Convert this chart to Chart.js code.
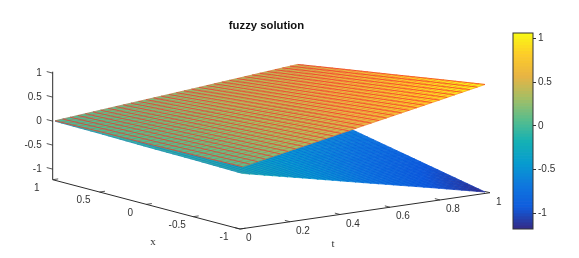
<!DOCTYPE html>
<html>
<head>
<meta charset="utf-8">
<script src="https://cdn.jsdelivr.net/npm/chart.js@4"></script>
<style>
  html, body { margin: 0; background: #fff; }
  #wrap { position: relative; width: 579px; height: 258px; overflow: hidden; }
  canvas { position: absolute; top: 0; }
</style>
</head>
<body>
<div id="wrap">
  <canvas id="surface" width="533" height="258" style="left:0"></canvas>
  <canvas id="bar" width="89" height="258" style="left:490px"></canvas>
</div>
<script>
// values
const xValues = [-1, -0.5, 0, 0.5, 1];
const tValues = [0.01, 0.25, 0.5, 0.75, 0.98];
const upperZ = [
  [0.07, 0.05, 0.03, 0.02, 0],
  [0.31, 0.26, 0.21, 0.16, 0.11],
  [0.565, 0.48, 0.39, 0.31, 0.22],
  [0.815, 0.695, 0.575, 0.455, 0.335],
  [1.05, 0.9, 0.745, 0.595, 0.44],
];
const lowerZ = [
  [-0.07, -0.05, -0.04, -0.02, -0.01],
  [-0.345, -0.285, -0.22, -0.16, -0.1],
  [-0.635, -0.525, -0.42, -0.31, -0.2],
  [-0.92, -0.765, -0.61, -0.455, -0.3],
  [-1.19, -0.99, -0.79, -0.59, -0.39],
];
const xTicks = [1, 0.5, 0, -0.5, -1];
const tTicks = [0, 0.2, 0.4, 0.6, 0.8, 1];
const zTicks = [1, 0.5, 0, -0.5, -1];
const barTicks = [-1, -0.5, 0, 0.5, 1];

const zMin = -1.22, zTop = 1.03;
const colorMin = -1.18, colorMax = 1.06;
const meshCells = 32;

// parula
const parula = [
  [53, 42, 135], [15, 92, 221], [15, 120, 222], [7, 156, 207], [21, 177, 180],
  [89, 189, 140], [165, 190, 100], [232, 180, 68], [253, 204, 40], [249, 251, 21],
];

// view: where x=-1,t=0,z=zMin lands, and the screen step of each data axis
const view = { ox: 240, oy: 229, xx: -93.65, xy: -24.65, tx: 250, ty: -36.3, zy: -48 };
const plotTop = 34;

function project(x, t, z) {
  return {
    x: view.ox + (x + 1) * view.xx + t * view.tx,
    y: view.oy + (x + 1) * view.xy + t * view.ty + (z - zMin) * view.zy,
  };
}

function colorAt(z) {
  const f = Math.min(1, Math.max(0, (z - colorMin) / (colorMax - colorMin))) * (parula.length - 1);
  const i = Math.min(parula.length - 2, Math.floor(f));
  const c = parula[i].map((v, k) => Math.round(v + (parula[i + 1][k] - v) * (f - i)));
  return `rgb(${c[0]},${c[1]},${c[2]})`;
}

// look up a z in the read table between its rows and columns
function zAt(table, x, t) {
  let j = 0, i = 0;
  while (j < xValues.length - 2 && x > xValues[j + 1]) j++;
  while (i < tValues.length - 2 && t > tValues[i + 1]) i++;
  const u = (x - xValues[j]) / (xValues[j + 1] - xValues[j]);
  const v = (t - tValues[i]) / (tValues[i + 1] - tValues[i]);
  const a = table[i][j] + (table[i][j + 1] - table[i][j]) * u;
  const b = table[i + 1][j] + (table[i + 1][j + 1] - table[i + 1][j]) * u;
  return a + (b - a) * v;
}

function lineSet(points, color, width) {
  return {
    type: "scatter", showLine: true, data: points, borderColor: color, borderWidth: width,
    pointRadius: 0, fill: false, tension: 0, clip: false,
  };
}

function surfaceSets(table, meshColor, crossColor) {
  const sets = [];
  const xAt = (i) => xValues[0] + (xValues[xValues.length - 1] - xValues[0]) * i / meshCells;
  const tAt = (i) => tValues[0] + (tValues[tValues.length - 1] - tValues[0]) * i / meshCells;
  for (let i = 0; i < meshCells; i++) {
    for (let j = 0; j < meshCells; j++) {
      const corners = [[j, i], [j + 1, i], [j + 1, i + 1], [j, i + 1], [j, i]];
      const zs = corners.map(([a, b]) => zAt(table, xAt(a), tAt(b)));
      const color = colorAt((zs[0] + zs[1] + zs[2] + zs[3]) / 4);
      sets.push({
        type: "scatter", showLine: true, tension: 0, pointRadius: 0, clip: false,
        data: corners.map(([a, b], k) => project(xAt(a), tAt(b), zs[k])),
        fill: "shape", backgroundColor: color, borderColor: color, borderWidth: 0.7,
      });
    }
  }
  for (let j = 0; j <= meshCells; j++) {
    const pts = [];
    for (let i = 0; i <= meshCells; i++) pts.push(project(xAt(j), tAt(i), zAt(table, xAt(j), tAt(i))));
    sets.push(lineSet(pts, crossColor, 0.7));
  }
  for (let i = 0; i <= meshCells; i++) {
    const pts = [];
    for (let j = 0; j <= meshCells; j++) pts.push(project(xAt(j), tAt(i), zAt(table, xAt(j), tAt(i))));
    sets.push(lineSet(pts, meshColor, 1));
  }
  return sets;
}

function axisSets() {
  const ink = "#2b2b2b";
  const sets = [
    lineSet([project(1, 0, zMin), project(-1, 0, zMin)], ink, 1),
    lineSet([project(-1, 0, zMin), project(-1, 1, zMin)], ink, 1),
    lineSet([project(1, 0, zMin), project(1, 0, zTop)], ink, 1),
  ];
  xTicks.forEach((v) => sets.push(lineSet([project(v, 0, zMin), project(v, 0.022, zMin)], ink, 0.8)));
  tTicks.forEach((v) => sets.push(lineSet([project(-1, v, zMin), project(-0.945, v, zMin)], ink, 0.8)));
  zTicks.forEach((v) => sets.push(lineSet([project(1, 0, v), project(1.064, 0, v)], ink, 0.8)));
  return sets;
}

const axisText = {
  id: "axisText",
  afterDatasetsDraw(chart) {
    const { ctx, scales } = chart;
    const put = (str, p, dx, dy, align) => {
      ctx.textAlign = align;
      ctx.fillText(str, scales.x.getPixelForValue(p.x) + dx, scales.y.getPixelForValue(p.y) + dy);
    };
    ctx.save();
    ctx.fillStyle = "#333";
    ctx.textBaseline = "middle";
    ctx.font = "10px 'Liberation Sans'";
    zTicks.forEach((v) => put(String(v), project(1, 0, v), -11, 0, "right"));
    xTicks.forEach((v) => put(String(v), project(v, 0, zMin), -16, 8.5, "center"));
    tTicks.forEach((v) => put(String(v), project(-1, v, zMin), 6, 9.5, "left"));
    ctx.font = "11px 'Liberation Serif'";
    ctx.textAlign = "center";
    ctx.fillText("x", 153, 242);
    ctx.fillText("t", 333, 244);
    ctx.restore();
  },
};

// first dataset is painted last in Chart.js, so the list goes in reverse
const datasets = [
  ...axisSets(),
  ...surfaceSets(lowerZ, "rgba(0,70,215,0.3)", "rgba(0,70,215,0.15)"),
  ...surfaceSets(upperZ, "rgba(245,45,40,0.72)", "rgba(245,60,40,0.5)"),
].reverse();

new Chart(document.getElementById("surface"), {
  type: "scatter",
  data: { datasets },
  plugins: [axisText],
  options: {
    responsive: false,
    animation: false,
    events: [],
    layout: { padding: 0 },
    plugins: {
      legend: { display: false },
      tooltip: { enabled: false },
      title: {
        display: true, text: "fuzzy solution", color: "#111",
        font: { family: "'Liberation Sans'", size: 11.3, weight: "bold", lineHeight: 1.2 },
        padding: { top: 19, bottom: 1.44 },
      },
    },
    scales: {
      x: { type: "linear", display: false, min: 0, max: 533 },
      y: { type: "linear", display: false, min: plotTop, max: 258, reverse: true },
    },
  },
});

// colorbar
const barSets = [];
const barSteps = 64;
for (let i = 0; i < barSteps; i++) {
  const lo = colorMin + (colorMax - colorMin) * i / barSteps;
  const hi = colorMin + (colorMax - colorMin) * (i + 1) / barSteps;
  barSets.push({
    data: [[lo, hi]], backgroundColor: colorAt((lo + hi) / 2), borderWidth: 0,
    barPercentage: 1, categoryPercentage: 1, grouped: false, borderSkipped: false,
  });
}

const barFrame = {
  id: "barFrame",
  afterDatasetsDraw(chart) {
    const { ctx, chartArea: a } = chart;
    ctx.save();
    ctx.strokeStyle = "#333";
    ctx.lineWidth = 1;
    ctx.strokeRect(a.left, a.top, a.right - a.left, a.bottom - a.top);
    ctx.restore();
  },
};

new Chart(document.getElementById("bar"), {
  type: "bar",
  data: { labels: [""], datasets: barSets },
  plugins: [barFrame],
  options: {
    responsive: false,
    animation: false,
    events: [],
    layout: { padding: { left: 23, top: 33, bottom: 29, right: 0 } },
    plugins: { legend: { display: false }, tooltip: { enabled: false } },
    scales: {
      x: { display: false },
      y: {
        position: "right", min: colorMin, max: colorMax,
        afterBuildTicks: (s) => { s.ticks = barTicks.map((v) => ({ value: v })); },
        afterFit: (s) => { s.width = 46; },
        grid: { drawOnChartArea: false, tickLength: 3, color: "#333" },
        border: { display: false },
        ticks: {
          color: "#333", padding: 2, autoSkip: false,
          font: { family: "'Liberation Sans'", size: 10 },
          callback: (v) => String(v),
        },
      },
    },
  },
});
</script>
</body>
</html>
